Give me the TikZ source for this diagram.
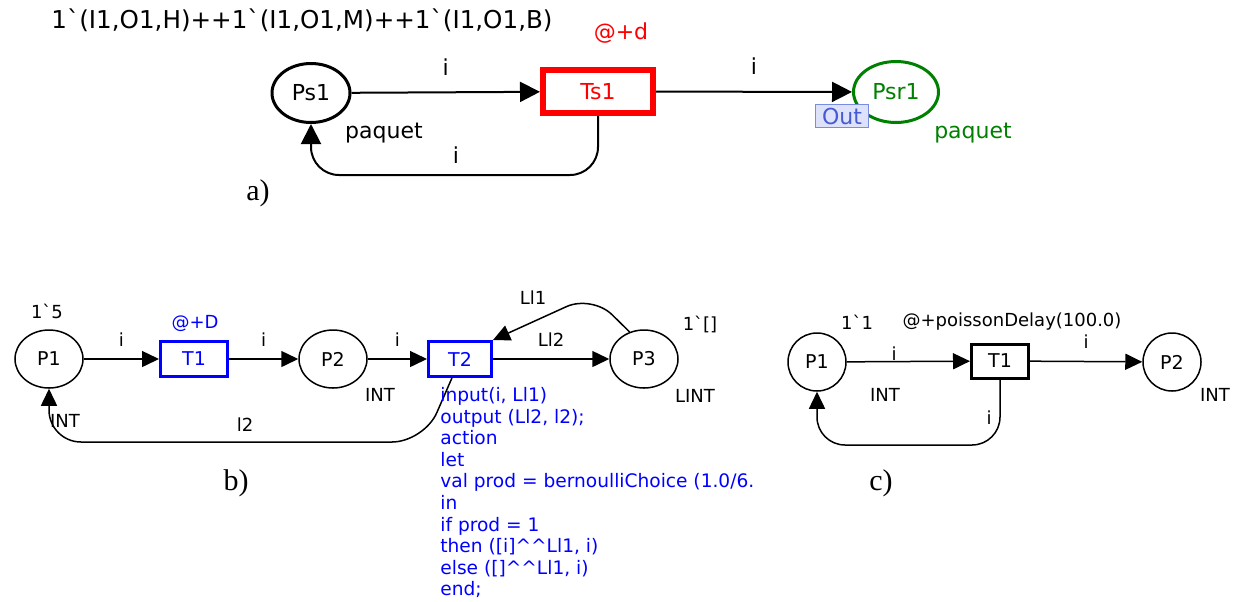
\documentclass[tikz,border=0pt]{standalone}
\usepackage{fontspec}
\setmainfont{DejaVu Sans}
\newfontfamily\capfont{Liberation Serif}
\usepackage{xcolor}
\usetikzlibrary{arrows.meta, positioning, calc, shapes.geometric}
\definecolor{cpngreen}{RGB}{0,128,0}
\definecolor{portfill}{RGB}{221,225,250}
\definecolor{portline}{RGB}{120,140,225}
\definecolor{porttext}{RGB}{70,90,210}
\newcommand{\bq}{\textasciigrave}

\begin{document}
\begin{tikzpicture}[x=0.5pt, y=-0.5pt,
    big/.style={font=\fontsize{11}{13}\selectfont},
    small/.style={font=\fontsize{9}{10.8}\selectfont},
    place/.style={ellipse, draw, inner sep=0pt, line width=0.75pt, minimum width=34pt, minimum height=29pt, font=\fontsize{9.5}{11}\selectfont},
    trans/.style={rectangle, draw, inner sep=0pt, line width=1.5pt, minimum width=33.5pt, minimum height=17.5pt, font=\fontsize{9.5}{11}\selectfont},
    arc/.style={-{Triangle[length=8.5pt, width=8pt]}, line width=0.75pt},
    bigarc/.style={-{Triangle[length=10pt, width=10pt]}, line width=1pt},
    lbl/.style={inner sep=0pt, small},
    sub/.style={inner sep=0pt, font=\capfont\fontsize{15}{17}\selectfont}]
    \useasboundingbox (0,0) rectangle (1242,601);

    % a)
    \node[inner sep=0pt, font=\fontsize{12.3}{14}\selectfont] (marking) at (302,20) {1\bq(I1,O1,H)++1\bq(I1,O1,M)++1\bq(I1,O1,B)};
    \node[place, big, line width=1.5pt, minimum width=39pt, minimum height=29.5pt] (Ps1) at (311,93) {Ps1};
    \node[trans, big, draw=red, text=red, line width=3pt, minimum width=55pt, minimum height=21.5pt] (Ts1) at (598,91.5) {Ts1};
    \node[place, big, draw=cpngreen, text=cpngreen, line width=1.5pt, minimum width=42.5pt, minimum height=30.5pt] (Psr1) at (896,92) {Psr1};
    \node[draw=portline, fill=portfill, text=porttext, inner sep=0pt, minimum width=26.5pt, minimum height=11.5pt, big] (out) at (842,116) {Out};
    \draw[bigarc] (Ps1) -- (Ts1) node[pos=0.5, above=8pt, inner sep=0pt, big] {i};
    \draw[bigarc] (Ts1) -- (Psr1) node[pos=0.5, above=8pt, inner sep=0pt, big] {i};
    \draw[bigarc, rounded corners=14pt] (Ts1.south) -- (598,175) -- (311,175) -- (Ps1.south);
    \node[inner sep=0pt, big] (iback) at (456,155) {i};
    \node[inner sep=0pt, big, text=red] (delay) at (621,33) {@+d};
    \node[inner sep=0pt, big] (typePs1) at (384,133) {paquet};
    \node[inner sep=0pt, big, text=cpngreen] (typePsr1) at (973,133) {paquet};
    \node[sub] (capa) at (258,193) {a)};

    % b)
    \node[place] (P1) at (49,359) {P1};
    \node[trans, draw=blue, text=blue] (T1) at (194,359) {T1};
    \node[place] (P2) at (333,359) {P2};
    \node[trans, draw=blue, text=blue, minimum width=31.5pt] (T2) at (460,359) {T2};
    \node[place] (P3) at (644,359) {P3};
    \draw[arc] (P1) -- (T1) node[pos=0.5, above=6pt, lbl] {i};
    \draw[arc] (T1) -- (P2) node[pos=0.5, above=6pt, lbl] {i};
    \draw[arc] (P2) -- (T2) node[pos=0.5, above=6pt, lbl] {i};
    \draw[arc] (T2) -- (P3) node[pos=0.5, above=6pt, lbl] {Ll2};
    \draw[arc, rounded corners=14pt] (P3.118) -- (592,295) -- (T2.north east);
    \draw[arc, rounded corners=16pt] (T2.-113) -- (424,442) -- (49,442) -- (P1.south);
    \node[lbl] (lLl1) at (533,298) {Ll1};
    \node[lbl] (ll2) at (245,425) {l2};
    \node[lbl] (m1) at (47,311) {1\bq5};
    \node[lbl, text=blue] (d1) at (195,323) {@+D};
    \node[lbl] (tP1) at (65,421) {INT};
    \node[lbl] (tP2) at (380,395) {INT};
    \node[lbl] (m3) at (700,324) {1\bq[]};
    \node[lbl] (tP3) at (695,396) {LINT};
    \begin{scope}
        \clip (430,380) rectangle (752,601);
        \node[inner sep=0pt, anchor=north west, align=left, text=blue, font=\fontsize{9.3}{10.8}\selectfont] (code) at (440,387) {input(i, Ll1)\\
            output (Ll2, l2);\\
            action\\
            let\\
            val prod = bernoulliChoice (1.0/6.\\
            in\\
            if prod = 1\\
            then ([i]\^{}\^{}Ll1, i)\\
            else ([]\^{}\^{}Ll1, i)\\
            end;};
    \end{scope}
    \node[sub] (capb) at (236,483) {b)};

    % c)
    \node[circle, draw, inner sep=0pt, line width=0.75pt, minimum size=29pt, font=\fontsize{9.5}{11}\selectfont] (Q1) at (817,362) {P1};
    \node[trans, line width=1.5pt, minimum width=28.5pt, minimum height=17pt] (U1) at (1000,361) {T1};
    \node[circle, draw, inner sep=0pt, line width=0.75pt, minimum size=29pt, font=\fontsize{9.5}{11}\selectfont] (Q2) at (1172,362) {P2};
    \draw[arc] (Q1) -- (U1);
    \draw[arc] (U1) -- (Q2) node[pos=0.5, above=6pt, lbl] {i};
    \draw[arc, rounded corners=14pt] (U1.south) -- (1000,445) -- (817,445) -- (Q1.south);
    \node[lbl] (ci1) at (894,354) {i};
    \node[lbl] (ci3) at (989,418) {i};
    \node[lbl] (cm1) at (857,322) {1\bq1};
    \node[lbl] (cd1) at (1012,322) {@+poissonDelay(100.0)};
    \node[lbl] (ct1) at (885,395) {INT};
    \node[lbl] (ct2) at (1215,395) {INT};
    \node[sub] (capc) at (881,483) {c)};
\end{tikzpicture}
\end{document}
